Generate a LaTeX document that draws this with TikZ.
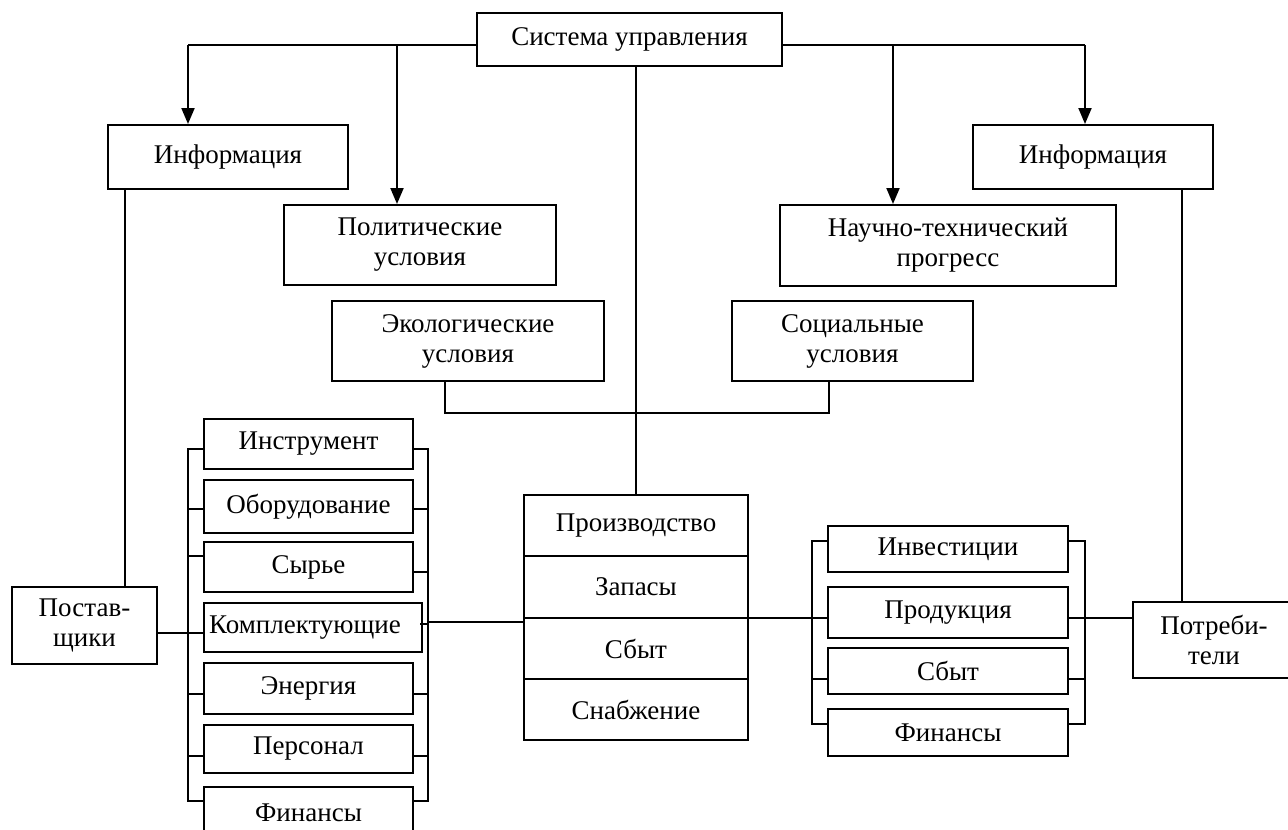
\documentclass[tikz,border=0pt]{standalone}
\usepackage{fontspec}
\setmainfont{Liberation Serif}
\usetikzlibrary{arrows.meta}
\begin{document}
\begin{tikzpicture}[x=1pt,y=-1pt,
  box/.style={draw, line width=2pt, inner sep=0pt, align=center,
    font=\fontsize{27}{30}\selectfont},
  ln/.style={line width=2pt},
  arr/.style={line width=2pt, -{Triangle[width=13pt,length=16pt]}}]
\useasboundingbox (0,0) rectangle (1288,830);
\fill[white] (0,0) rectangle (1288,830);
\clip (0,0) rectangle (1288,830);

% top level
\node[box, minimum width=305pt, minimum height=53pt] (sys) at (629.5,39.5) {Система управления};
\node[box, minimum width=240pt, minimum height=64pt] (infoL) at (228,157) {Информация};
\node[box, minimum width=240pt, minimum height=64pt] (infoR) at (1093,157) {Информация};
\node[box, minimum width=272pt, minimum height=80pt] (pol) at (420,245) {Политические\\условия};
\node[box, minimum width=336pt, minimum height=81pt] (sci) at (948,245.5) {Научно-технический\\прогресс};
\node[box, minimum width=272pt, minimum height=80pt] (eco) at (468,341) {Экологические\\условия};
\node[box, minimum width=241pt, minimum height=80pt] (soc) at (852.5,341) {Социальные\\условия};

% suppliers / consumers
\node[box, minimum width=145pt, minimum height=77pt] (supp) at (84.5,625.5) {Постав-\\щики};
\node[box, minimum width=162pt, minimum height=76pt] (cons) at (1214,640) {Потреби-\\тели};

% left group
\node[box, minimum width=209pt, minimum height=50pt] (instr) at (308.5,444) {Инструмент};
\node[box, minimum width=209pt, minimum height=53pt] (equip) at (308.5,506.5) {Оборудование};
\node[box, minimum width=209pt, minimum height=50pt] (raw) at (308.5,567) {Сырье};
\node[box, minimum width=218pt, minimum height=49pt] (comp) at (313,627.5) {Комплектующие\hspace*{16pt}};
\node[box, minimum width=209pt, minimum height=51pt] (energy) at (308.5,688.5) {Энергия};
\node[box, minimum width=209pt, minimum height=48pt] (pers) at (308.5,749) {Персонал};
\node[box, minimum width=209pt, minimum height=52pt] (finL) at (308.5,813) {Финансы};

% production stack
\node[box, minimum width=224pt, minimum height=61pt] (p1) at (636,525.5) {Производство};
\node[box, minimum width=224pt, minimum height=62pt] (p2) at (636,587) {Запасы};
\node[box, minimum width=224pt, minimum height=61pt] (p3) at (636,648.5) {Сбыт};
\node[box, minimum width=224pt, minimum height=61pt] (p4) at (636,709.5) {Снабжение};

% right group
\node[box, minimum width=240pt, minimum height=46pt] (inv) at (948,549) {Инвестиции};
\node[box, minimum width=240pt, minimum height=51pt] (prodn) at (948,612.5) {Продукция};
\node[box, minimum width=240pt, minimum height=46pt] (sales) at (948,671) {Сбыт};
\node[box, minimum width=240pt, minimum height=47pt] (finR) at (948,732.5) {Финансы};

% arrows from the control system
\coordinate (tl) at (188,45);
\coordinate (tp) at (397,45);
\coordinate (tr) at (1085,45);
\coordinate (ts) at (893,45);
\draw[ln] (sys.west |- tl) -- (tl);
\draw[arr] (tl) -- (tl |- infoL.north);
\draw[arr] (tp) -- (tp |- pol.north);
\draw[ln] (sys.east |- tr) -- (tr);
\draw[arr] (tr) -- (tr |- infoR.north);
\draw[arr] (ts) -- (ts |- sci.north);
\draw[ln] (p1.north |- sys.south) -- (p1.north);

% ecological / social
\coordinate (es) at (445,413);
\coordinate (ss) at (829,413);
\draw[ln] (es |- eco.south) -- (es) -- (ss) -- (ss |- soc.south);

% information to suppliers / consumers
\coordinate (il) at (125,0);
\coordinate (ir) at (1182,0);
\draw[ln] (il |- infoL.south) -- (il |- supp.north);
\draw[ln] (ir |- infoR.south) -- (ir |- cons.north);

% left group buses
\coordinate (lb) at (188,0);
\coordinate (rb) at (428,0);
\draw[ln] (instr.west |- 0,449) -- (lb |- 0,449) -- (lb |- 0,801) -- (finL.west |- 0,801);
\draw[ln] (equip.west |- 0,509) -- (lb |- 0,509);
\draw[ln] (raw.west |- 0,556) -- (lb |- 0,556);
\draw[ln] (supp.east |- 0,633) -- (comp.west |- 0,633);
\draw[ln] (energy.west |- 0,694) -- (lb |- 0,694);
\draw[ln] (pers.west |- 0,756) -- (lb |- 0,756);

\draw[ln] (instr.east |- 0,449) -- (rb |- 0,449) -- (rb |- 0,801) -- (finL.east |- 0,801);
\draw[ln] (equip.east |- 0,509) -- (rb |- 0,509);
\draw[ln] (raw.east |- 0,572) -- (rb |- 0,572);
\draw[ln] ([xshift=-3pt]comp.east |- 0,624) -- (rb |- 0,624);
\draw[ln] (energy.east |- 0,694) -- (rb |- 0,694);
\draw[ln] (pers.east |- 0,756) -- (rb |- 0,756);
\draw[ln] (rb |- 0,622) -- (p2.west |- 0,622);

% right group buses
\coordinate (lb2) at (812,0);
\coordinate (rb2) at (1085,0);
\draw[ln] (inv.west |- 0,541) -- (lb2 |- 0,541) -- (lb2 |- 0,724) -- (finR.west |- 0,724);
\draw[ln] (p3.east |- 0,618) -- (prodn.west |- 0,618);
\draw[ln] (sales.west |- 0,679) -- (lb2 |- 0,679);
\draw[ln] (inv.east |- 0,541) -- (rb2 |- 0,541) -- (rb2 |- 0,724) -- (finR.east |- 0,724);
\draw[ln] (prodn.east |- 0,618) -- (cons.west |- 0,618);
\draw[ln] (sales.east |- 0,679) -- (rb2 |- 0,679);
\end{tikzpicture}
\end{document}
